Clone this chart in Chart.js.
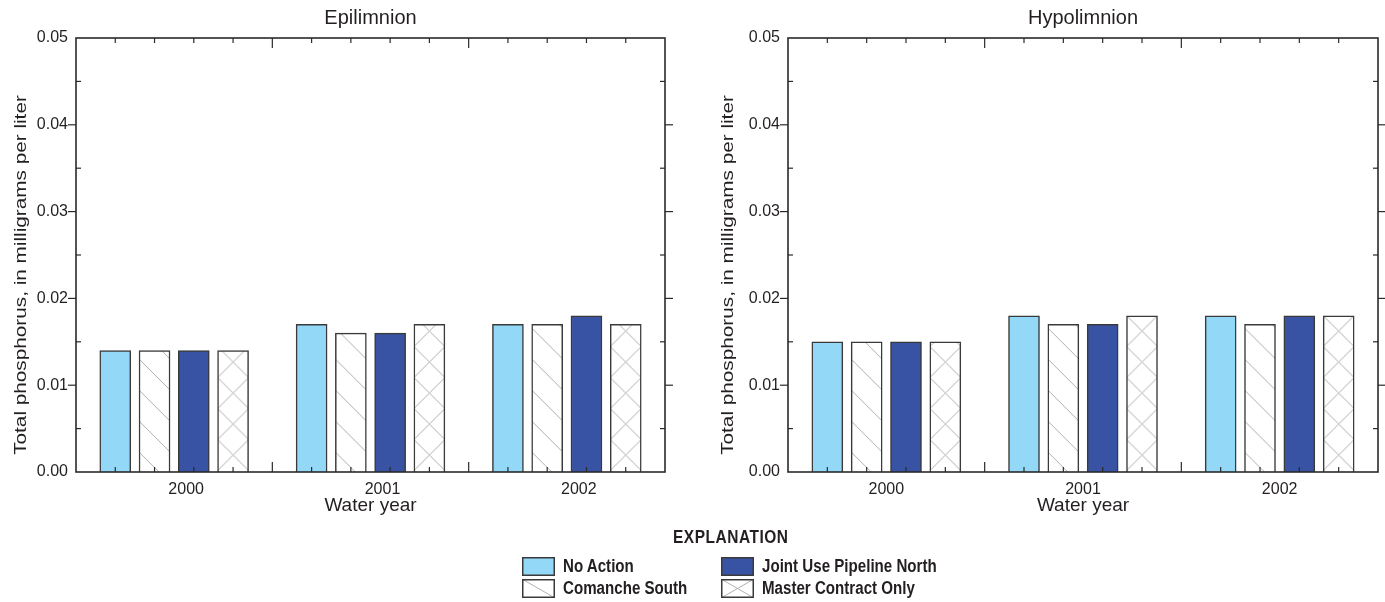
<!DOCTYPE html>
<html><head><meta charset="utf-8">
<script src="https://cdn.jsdelivr.net/npm/chart.js@4.4.1/dist/chart.umd.min.js"></script>
<style>
html,body{margin:0;padding:0;background:#fff;width:1385px;height:602px;overflow:hidden;position:relative;font-family:"Liberation Sans",Arial,sans-serif;color:#231f20}
.panel{position:absolute;top:0;height:530px}
#p1{left:0;width:692px}
#p2{left:712px;width:673px}
#expl{position:absolute;left:673px;top:527px;font-weight:bold;font-size:18px;line-height:20px;letter-spacing:0.6px;white-space:nowrap;transform:scale(0.86,1);transform-origin:0 50%}
.item{position:absolute;display:flex;align-items:center;height:19px;font-weight:bold;font-size:18px;line-height:19px;white-space:nowrap}
.item canvas{display:block;margin-right:8px}
.item span{display:inline-block;transform:scale(0.84,1);transform-origin:0 50%}
</style></head>
<body>
<div id="p1" class="panel"><canvas id="c1"></canvas></div>
<div id="p2" class="panel"><canvas id="c2"></canvas></div>
<div id="expl">EXPLANATION</div>
<div class="item" style="left:522px;top:557px"><canvas id="s0" width="33" height="19"></canvas><span id="t0"></span></div>
<div class="item" style="left:522px;top:579px"><canvas id="s1" width="33" height="19"></canvas><span id="t1"></span></div>
<div class="item" style="left:721px;top:557px"><canvas id="s2" width="33" height="19"></canvas><span id="t2"></span></div>
<div class="item" style="left:721px;top:579px"><canvas id="s3" width="33" height="19"></canvas><span id="t3"></span></div>
<script>
// ---------- data ----------
const years = ['2000', '2001', '2002'];
const seriesNames = ['No Action', 'Comanche South', 'Joint Use Pipeline North', 'Master Contract Only'];
const epiNoAction = [0.014, 0.017, 0.017];
const epiComanche = [0.014, 0.016, 0.017];
const epiJoint    = [0.014, 0.016, 0.018];
const epiMaster   = [0.014, 0.017, 0.017];
const hypoNoAction = [0.015, 0.018, 0.018];
const hypoComanche = [0.015, 0.017, 0.017];
const hypoJoint    = [0.015, 0.017, 0.018];
const hypoMaster   = [0.015, 0.018, 0.018];
const yTickValues = [0.00, 0.01, 0.02, 0.03, 0.04, 0.05];
const panelTitles = ['Epilimnion', 'Hypolimnion'];
const yAxisTitle = 'Total phosphorus, in milligrams per liter';
const xAxisTitle = 'Water year';

// ---------- styles ----------
const TEXT = '#231f20';
const EDGE = '#3a3a3a';
const HATCH = '#b0b0b0';
const seriesStyle = [
  {kind: 'solid', color: '#93d8f6'},
  {kind: 'back'},
  {kind: 'solid', color: '#3953a4'},
  {kind: 'cross'}
];
const BARW = 31;
Chart.defaults.font.family = '"Liberation Sans", Arial, sans-serif';
Chart.defaults.color = TEXT;

const nS = seriesNames.length;
const slot = nS + 1;
const xMax = years.length * slot;
const groupCenters = years.map((_, g) => g * slot + slot / 2);
const boundaries = years.slice(1).map((_, g) => (g + 1) * slot);
const barSlots = [];
years.forEach((_, g) => { for (let s = 0; s < nS; s++) barSlots.push(g * slot + s + 1); });

function makeTile(kind, w, h) {
  const c = document.createElement('canvas');
  c.width = w; c.height = h;
  const g = c.getContext('2d');
  g.fillStyle = '#fff'; g.fillRect(0, 0, w, h);
  g.strokeStyle = HATCH; g.lineWidth = 1;
  g.beginPath();
  g.moveTo(0, 0); g.lineTo(w, h);
  if (kind === 'cross') { g.moveTo(w, 0); g.lineTo(0, h); }
  g.stroke();
  return c;
}
const tiles = {back: makeTile('back', BARW, BARW), cross: makeTile('cross', BARW, BARW)};

function fillFor(style) {
  if (style.kind === 'solid') return style.color;
  return (ctx) => {
    const chart = ctx.chart, area = chart.chartArea;
    if (!area || !ctx.raw) return '#fff';
    const pat = chart.ctx.createPattern(tiles[style.kind], 'repeat');
    const xp = chart.scales.x.getPixelForValue(ctx.raw.x) - BARW / 2;
    const yp = area.bottom - (style.kind === 'back' ? 20 : 1.5);
    pat.setTransform(new DOMMatrix([1, 0, 0, 1, xp, yp]));
    return pat;
  };
}

const decor = {
  id: 'decor',
  afterDatasetsDraw(chart, args, opts) {
    const {ctx, chartArea: a, scales: {x, y}} = chart;
    ctx.save();
    ctx.strokeStyle = '#2a2a2a';
    ctx.lineWidth = 1.2;
    const line = (x1, y1, x2, y2) => { ctx.beginPath(); ctx.moveTo(x1, y1); ctx.lineTo(x2, y2); ctx.stroke(); };
    yTickValues.forEach((v, i) => {
      const p = y.getPixelForValue(v);
      if (i > 0 && i < yTickValues.length - 1) { line(a.left - 8, p, a.left, p); line(a.right, p, a.right + 8, p); }
      if (i < yTickValues.length - 1) {
        const m = y.getPixelForValue((v + yTickValues[i + 1]) / 2);
        line(a.left, m, a.left + 5, m); line(a.right - 5, m, a.right, m);
      }
    });
    barSlots.forEach(v => { const p = x.getPixelForValue(v); line(p, a.bottom, p, a.bottom - 5); line(p, a.top, p, a.top + 5); });
    boundaries.forEach(v => { const p = x.getPixelForValue(v); line(p, a.bottom, p, a.bottom - 10); line(p, a.top, p, a.top + 10); });
    ctx.lineWidth = 1.6;
    ctx.strokeRect(a.left, a.top, a.right - a.left, a.bottom - a.top);
    ctx.fillStyle = TEXT;
    ctx.font = '17px "Liberation Sans", Arial, sans-serif';
    ctx.translate(opts.titleX, opts.titleY);
    ctx.rotate(-Math.PI / 2);
    ctx.scale(1.22, 1);
    ctx.textAlign = 'center';
    ctx.textBaseline = 'middle';
    ctx.fillText(yAxisTitle, 0, 0);
    ctx.restore();
  }
};

function buildChart(id, title, seriesData, rightPad, labelOffset, titleX) {
  const datasets = seriesData.map((vals, s) => ({
    label: seriesNames[s],
    data: vals.map((v, g) => ({x: g * slot + s + 1, y: v})),
    backgroundColor: fillFor(seriesStyle[s]),
    borderColor: EDGE,
    borderWidth: 1.5,
    barThickness: BARW,
    grouped: false
  }));
  return new Chart(document.getElementById(id), {
    type: 'bar',
    data: {datasets},
    options: {
      responsive: true, maintainAspectRatio: false, animation: false,
      layout: {padding: {left: 0, right: rightPad, top: 0, bottom: 0}},
      plugins: {
        legend: {display: false}, tooltip: {enabled: false},
        title: {display: true, text: title, fullSize: false, color: TEXT, font: {size: 20, weight: 'normal'}, padding: {top: 6, bottom: 8}},
        decor: {titleX: titleX, titleY: 275}
      },
      scales: {
        x: {
          type: 'linear', min: 0, max: xMax, offset: false,
          grid: {display: false, drawTicks: false, offset: false}, border: {display: false},
          afterBuildTicks: s => { s.ticks = groupCenters.map(v => ({value: v})); },
          ticks: {autoSkip: false, maxRotation: 0, minRotation: 0, padding: 8, labelOffset: labelOffset, color: TEXT, font: {size: 16},
                  callback: (v, i) => years[i]},
          title: {display: true, text: xAxisTitle, color: TEXT, font: {size: 19}, padding: {top: 0, bottom: 13}},
          afterFit: s => { s.height = 58; }
        },
        y: {
          min: 0, max: 0.05,
          grid: {display: false, drawTicks: false}, border: {display: false},
          afterBuildTicks: s => { s.ticks = yTickValues.map(v => ({value: v})); },
          ticks: {padding: 8, color: TEXT, font: {size: 16}, callback: v => Number(v).toFixed(2)},
          afterFit: s => { s.width = 76; }
        }
      }
    },
    plugins: [decor]
  });
}

buildChart('c1', panelTitles[0], [epiNoAction, epiComanche, epiJoint, epiMaster], 27, 12, 21);
buildChart('c2', panelTitles[1], [hypoNoAction, hypoComanche, hypoJoint, hypoMaster], 7, 0, 16);

seriesStyle.forEach((st, i) => {
  const c = document.getElementById('s' + i), g = c.getContext('2d');
  const w = c.width, h = c.height;
  g.fillStyle = st.kind === 'solid' ? st.color : '#fff';
  g.fillRect(0, 0, w, h);
  if (st.kind !== 'solid') {
    g.strokeStyle = HATCH; g.lineWidth = 1;
    g.beginPath(); g.moveTo(0, 0); g.lineTo(w, h);
    if (st.kind === 'cross') { g.moveTo(w, 0); g.lineTo(0, h); }
    g.stroke();
  }
  g.strokeStyle = EDGE; g.lineWidth = 1.5;
  g.strokeRect(0.75, 0.75, w - 1.5, h - 1.5);
  document.getElementById('t' + i).textContent = seriesNames[i];
});
</script>
</body></html>
